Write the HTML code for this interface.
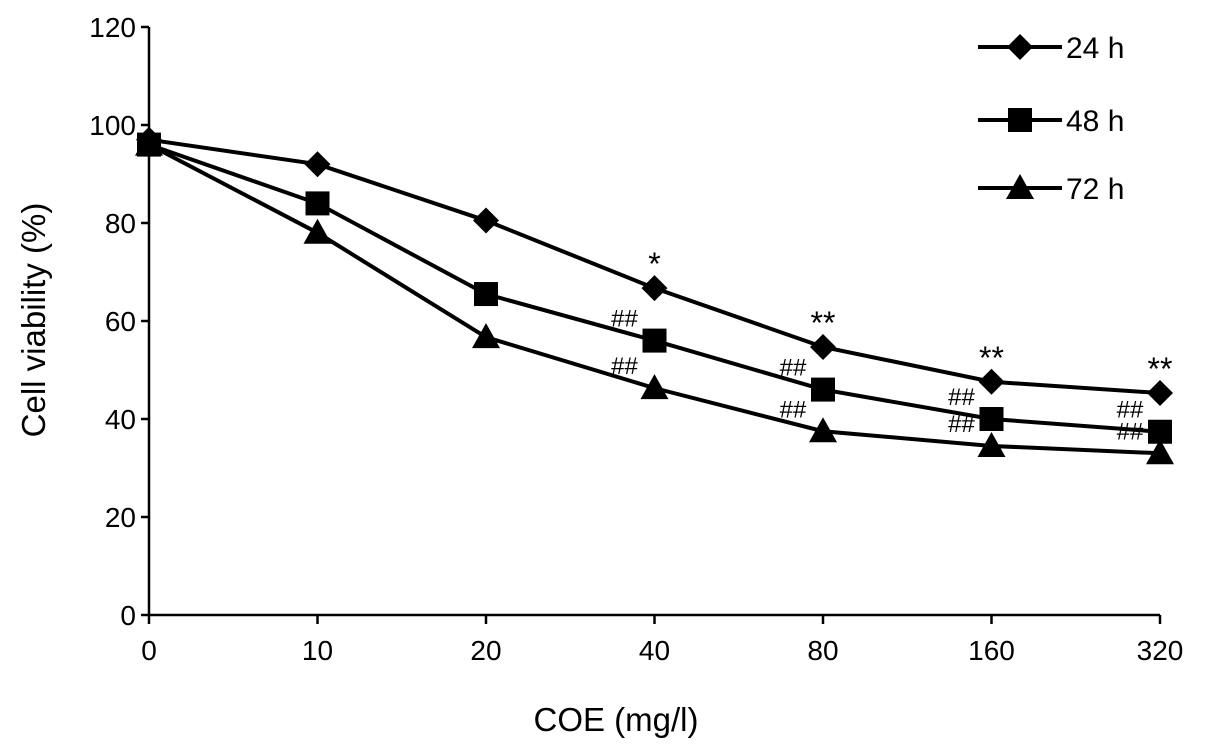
<!DOCTYPE html>
<html><head><meta charset="utf-8"><style>
body{margin:0;background:#fff;}
svg{display:block;font-family:"Liberation Sans",Arial,sans-serif;}
</style></head><body>
<svg id="chart" width="1205" height="752" viewBox="0 0 1205 752">
<g id="axes"></g>
<g id="series"></g>
<g id="annot"></g>
<g id="legend"></g>
<text x="45" y="320" font-size="33" text-anchor="middle" transform="rotate(-90 45 320)">Cell viability (%)</text>
<text x="616" y="731" font-size="33" text-anchor="middle">COE (mg/l)</text>
</svg>
<script>
const categories=["0","10","20","40","80","160","320"];
const yTicks=[0,20,40,60,80,100,120];
const series24=[97,92,80.5,66.7,54.7,47.6,45.3];
const series48=[96,84,65.5,56,46,40,37.4];
const series72=[96,78,56.7,46.3,37.5,34.5,33];
const seriesNames=["24 h","48 h","72 h"];
const starLabels=["","","","*","**","**","**"];
const hash48=["","","","##","##","##","##"];
const hash72=["","","","##","##","##","##"];

const NS="http://www.w3.org/2000/svg";
const X0=149,XSTEP=168.5,Y0=615,YPX=4.9;
const xs=i=>X0+i*XSTEP;
const ys=v=>Y0-v*YPX;
function mk(tag,attrs,parent){const e=document.createElementNS(NS,tag);for(const k in attrs)e.setAttribute(k,attrs[k]);parent.appendChild(e);return e;}
const axes=document.getElementById('axes');
let l=mk('line',{x1:X0,y1:ys(120),x2:X0,y2:Y0,stroke:'#000','stroke-width':2.5},axes);


l=mk('line',{x1:X0,y1:Y0,x2:xs(6),y2:Y0,stroke:'#000','stroke-width':2.5},axes);


yTicks.forEach(v=>{
 const t=mk('line',{x1:X0-8,y1:ys(v),x2:X0,y2:ys(v),stroke:'#000','stroke-width':2.5},axes);
 
 
 const tx=mk('text',{x:X0-13,y:ys(v)+10,'font-size':28,'text-anchor':'end'},axes);
 tx.textContent=v;
 
 
});
categories.forEach((c,i)=>{
 const t=mk('line',{x1:xs(i),y1:Y0,x2:xs(i),y2:Y0+9,stroke:'#000','stroke-width':2.5},axes);
 
 
 const tx=mk('text',{x:xs(i),y:Y0+45,'font-size':28,'text-anchor':'middle'},axes);
 tx.textContent=c;
 
 
});
function marker(type,x,y,parent){
 let e;
 if(type==='diamond')e=mk('polygon',{points:`${x},${y-13} ${x+13},${y} ${x},${y+13} ${x-13},${y}`,fill:'#000'},parent);
 else if(type==='square')e=mk('rect',{x:x-12,y:y-12,width:24,height:24,fill:'#000'},parent);
 else e=mk('polygon',{points:`${x},${y-14} ${x+14},${y+11} ${x-14},${y+11}`,fill:'#000'},parent);
 return e;
}
const sg=document.getElementById('series');
const types=['diamond','square','triangle'];
[series24,series48,series72].forEach((s,k)=>{
 const g=mk('g',{},sg);
 
 
 const p=mk('polyline',{points:s.map((v,i)=>xs(i)+','+ys(v)).join(' '),fill:'none',stroke:'#000','stroke-width':4},g);
 
 
 s.forEach((v,i)=>{
  const m=marker(types[k],xs(i),ys(v),g);
  
  
 });
});
const an=document.getElementById('annot');
function lab(txt,x,y,size,name){
 if(!txt)return;
 const t=mk('text',{x:x,y:y,'font-size':size,'text-anchor':'middle'},an);
 t.textContent=txt;
 
 
}
starLabels.forEach((s,i)=>lab(s,xs(i),ys(series24[i])-13,32,'significance-star'));
hash48.forEach((s,i)=>lab(s,xs(i)-30,ys(series48[i])-14,24,'significance-hash-48h'));
hash72.forEach((s,i)=>lab(s,xs(i)-30,ys(series72[i])-14,24,'significance-hash-72h'));
const lg=document.getElementById('legend');
[47,120,188].forEach((y,k)=>{
 const g=mk('g',{},lg);
 
 
 mk('line',{x1:978,y1:y,x2:1062,y2:y,stroke:'#000','stroke-width':4},g);
 marker(types[k],1020,y,g);
 const t=mk('text',{x:1066,y:y+11,'font-size':30},g);
 t.textContent=seriesNames[k];
});
</script>
</body></html>
